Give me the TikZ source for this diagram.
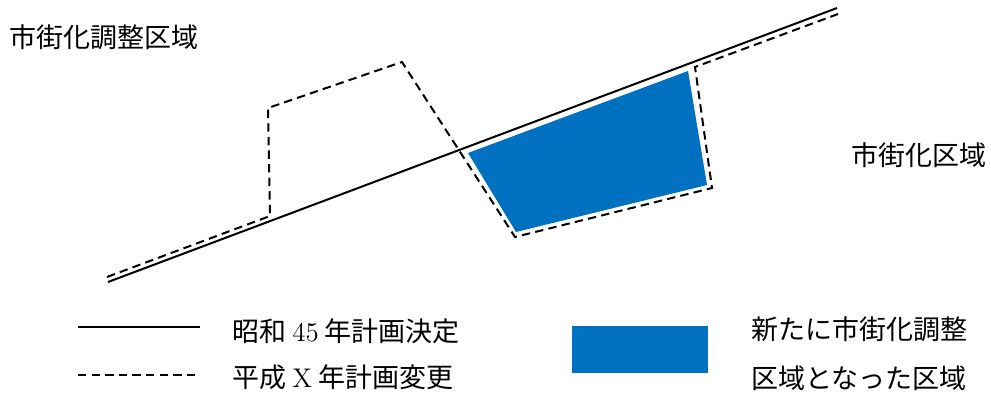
\documentclass[tikz,border=0pt]{standalone}
\usepackage{fontspec}
\usepackage{tikz}
\newfontfamily\jp{Noto Sans CJK JP}
\definecolor{areablue}{RGB}{0,112,192}

\begin{document}
\begin{tikzpicture}[line cap=butt,line join=miter,x=0.5pt,y=-0.5pt,
  oldline/.style={line width=1pt,black},
  newline/.style={line width=1pt,black,dash pattern=on 4.2pt off 2.6pt},
  lbl/.style={inner sep=0pt,anchor=west,font=\fontsize{13.5}{16}\selectfont\jp}]
\useasboundingbox (0,0) rectangle (991,392);
\fill[areablue] (468,153) -- (688,71) -- (707,185) -- (516,232) -- cycle;
\draw [oldline] (108,282)-- (837,8);
\draw [newline] (107,277)-- (270,216)-- (268,108)-- (402,62)-- (515,237)-- (712,188)-- (695,67)-- (838,14);
\node[lbl] (chosei) at (9,37) {市街化調整区域};
\node[lbl] (shigaika) at (851,155) {市街化区域};
% legend
\draw [oldline] (78,327)-- (200,327);
\draw [newline] (78,375)-- (200,375);
\node[lbl] (showa) at (232,331) {昭和\ {\rmfamily 45}\ 年計画決定};
\node[lbl] (heisei) at (232,377) {平成\ {\rmfamily X}\ 年計画変更};
\fill[areablue] (572,326) rectangle (708,373);
\node[lbl] (arata1) at (751,329) {新たに市街化調整};
\node[lbl] (arata2) at (751,378) {区域となった区域};
\end{tikzpicture}
\end{document}
